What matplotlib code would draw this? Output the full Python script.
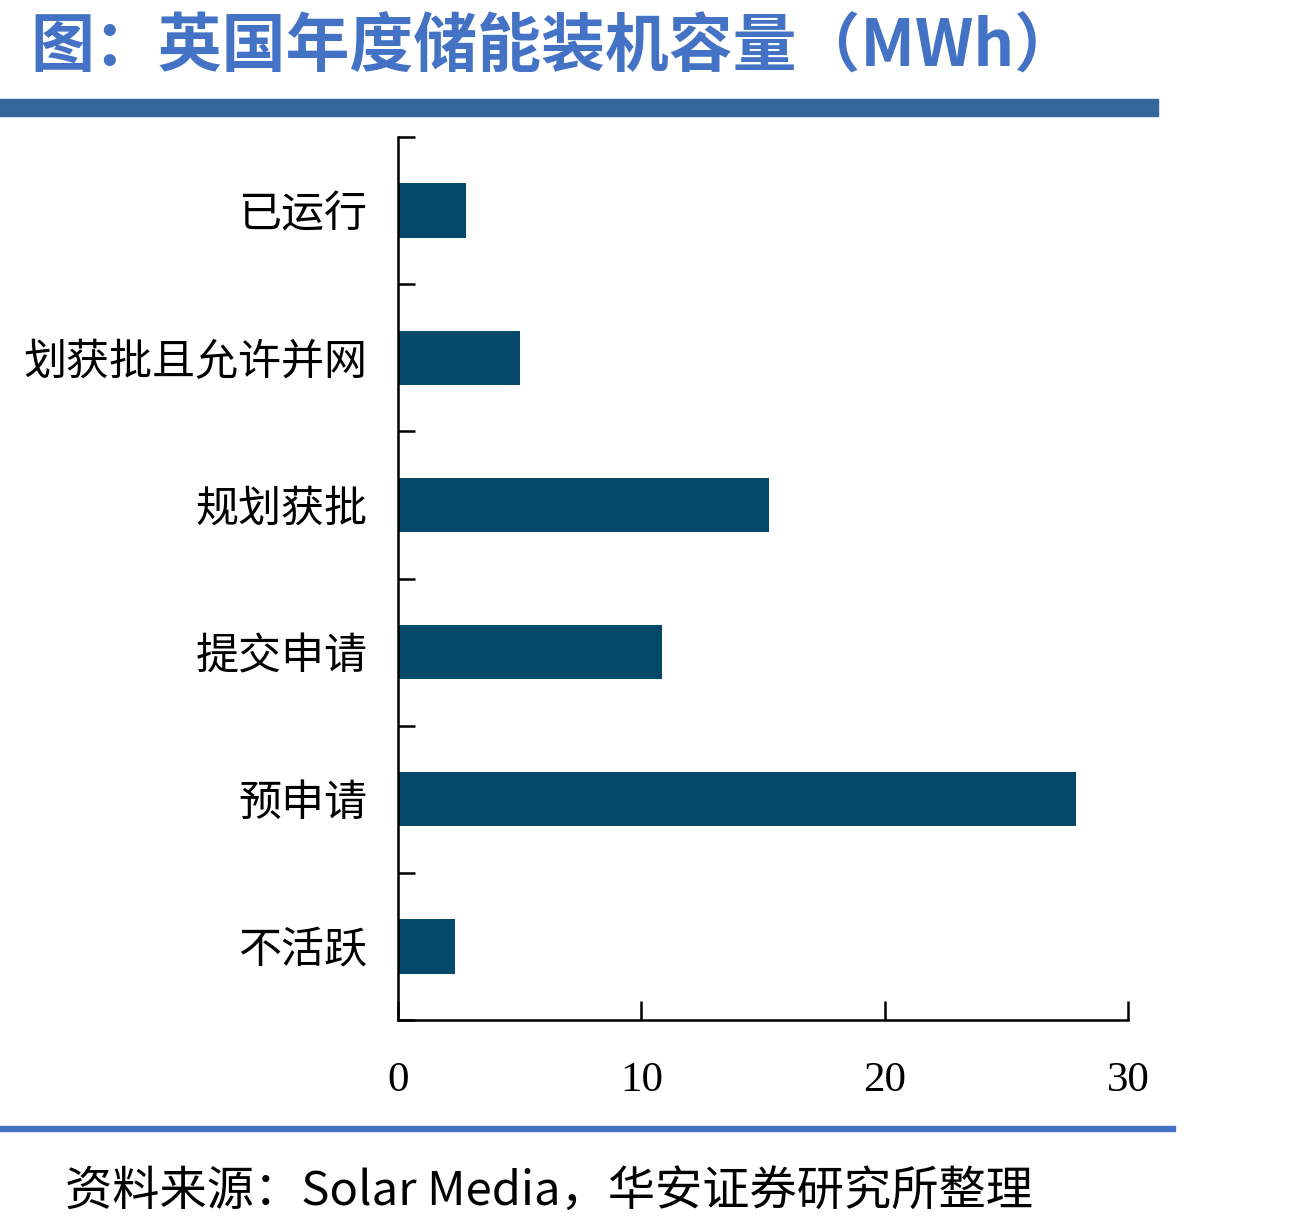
import matplotlib
matplotlib.use("Agg")
import matplotlib.pyplot as plt
import numpy as np

plt.rcParams['font.family'] = ['Noto Sans CJK SC', 'DejaVu Sans']

categories = ["已运行", "划获批且允许并网", "规划获批", "提交申请", "预申请", "不活跃"]
values = [2.8, 5.0, 15.25, 10.85, 27.85, 2.35]
xticks = [0, 10, 20, 30]
title = "图：英国年度储能装机容量（MWh）"
source = "资料来源：Solar Media，华安证券研究所整理"

W, H = 1289, 1226
fig = plt.figure(figsize=(W / 100, H / 100), dpi=100)

ax = fig.add_axes([398 / W, 1 - 1020 / H, (1128 - 398) / W, (1020 - 137) / H])
y = np.arange(len(categories))
ax.barh(y, values, height=0.37, color="#04496A")
ax.set_ylim(len(categories) - 0.5, -0.5)
ax.set_xlim(0, 30)
ax.set_xticks(xticks)
ax.set_xticklabels([str(t) for t in xticks], family=['Liberation Serif'], fontsize=31)
ax.set_yticks(y)
ax.set_yticklabels(categories, fontsize=31)
ax.set_yticks(np.arange(-0.5, len(categories), 1.0), minor=True)
ax.tick_params(axis='y', which='major', length=0, pad=22)
ax.tick_params(axis='y', which='minor', length=12, width=1.8, direction='in')
ax.tick_params(axis='x', which='major', length=14, width=1.8, direction='in', pad=30)
for s in ['top', 'right']:
    ax.spines[s].set_visible(False)
for s in ['left', 'bottom']:
    ax.spines[s].set_linewidth(1.8)

# title
fig.text(30 / W, 1 - 47 / H, title, fontsize=46, fontweight='bold', color="#4472C4",
         va='center', ha='left')
fig.patches.append(matplotlib.patches.Rectangle((0, 1 - 116 / H), 1158 / W, 17 / H,
                                                transform=fig.transFigure, color="#336699"))
# bottom line
fig.patches.append(matplotlib.patches.Rectangle((0, 1 - 1131 / H), 1175 / W, 5 / H,
                                                transform=fig.transFigure, color="#4472C4"))
fig.text(65 / W, 1 - 1192 / H, source, fontsize=34, color='black', va='center', ha='left')

fig.savefig("out.png", dpi=100)
